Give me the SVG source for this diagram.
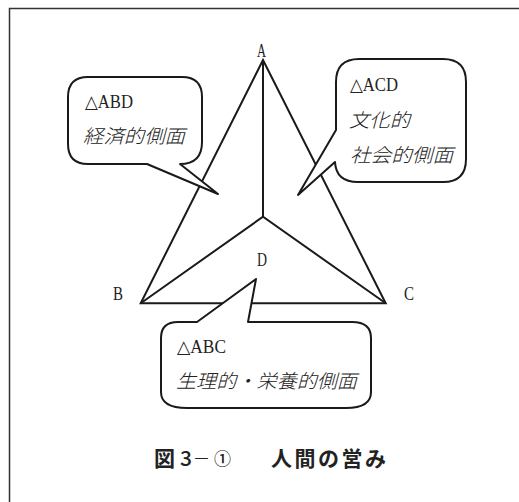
<svg xmlns="http://www.w3.org/2000/svg" width="519" height="502" viewBox="0 0 519 502">
<style>
.ln{fill:none;stroke:#1a1a1a;stroke-width:2;stroke-linejoin:miter}
.bub{fill:#fff;stroke:#1a1a1a;stroke-width:2;stroke-linejoin:round}
.lat{font-family:"Liberation Serif","DejaVu Serif",serif;font-size:18px;fill:#222}
.jp{font-family:"Noto Sans CJK JP","Noto Sans CJK SC",sans-serif;font-size:19px;font-style:italic;font-weight:300;fill:#222}
.cap{font-family:"Noto Sans CJK JP","Noto Sans CJK SC",sans-serif;font-size:21px;font-weight:700;fill:#222}
</style>
<rect x="0" y="0" width="519" height="502" fill="#fff"/>
<path d="M9.5,530 V8.5 H530" fill="none" stroke="#333" stroke-width="1.5"/>
<g id="connectors">
<path class="ln" d="M263,60 L140.7,303.3 L385.7,303.3 Z"/>
<path class="ln" d="M263,60 V216.7 M140.7,303.3 L263,216.7 L385.7,303.3"/>
</g>
<g id="vertex-A"><text class="lat" x="257" y="57" textLength="9" lengthAdjust="spacingAndGlyphs">A</text></g>
<g id="vertex-B"><text class="lat" x="113" y="300" textLength="10" lengthAdjust="spacingAndGlyphs">B</text></g>
<g id="vertex-C"><text class="lat" x="404" y="300" textLength="10" lengthAdjust="spacingAndGlyphs">C</text></g>
<g id="vertex-D"><text class="lat" x="257" y="266" textLength="10" lengthAdjust="spacingAndGlyphs">D</text></g>
<g id="bubble-ABD">
<path class="bub" d="M147,164 L218,194 L180,164 Q202,164 202,142 V97 Q202,77 182,77 H88 Q68,77 68,97 V144 Q68,164 88,164 Z"/>
<text class="lat" x="85" y="108" textLength="48" lengthAdjust="spacingAndGlyphs">△ABD</text>
<text class="jp" x="83" y="143" textLength="102" lengthAdjust="spacingAndGlyphs">経済的側面</text>
</g>
<g id="bubble-ACD">
<path class="bub" d="M336,130 L298,195 L335,162 Q336,182 358,182 H443 Q466,182 466,159 V82 Q466,59 443,59 H359 Q336,59 336,82 Z"/>
<text class="lat" x="350" y="91" textLength="48" lengthAdjust="spacingAndGlyphs">△ACD</text>
<text class="jp" x="349" y="127" textLength="61" lengthAdjust="spacingAndGlyphs">文化的</text>
<text class="jp" x="350" y="162" textLength="103" lengthAdjust="spacingAndGlyphs">社会的側面</text>
</g>
<g id="bubble-ABC">
<path class="bub" d="M248,322 L256,279 L197,322 H178 Q161,322 161,338 V392 Q161,408 187,408 H346 Q371,408 371,392 V338 Q371,322 352,322 Z"/>
<text class="lat" x="177" y="353" textLength="49" lengthAdjust="spacingAndGlyphs">△ABC</text>
<text class="jp" x="176" y="388" textLength="181" lengthAdjust="spacingAndGlyphs">生理的・栄養的側面</text>
</g>
<g id="caption">
<text class="cap" x="154" y="466">図</text>
<text class="cap" x="180" y="466" style="font-weight:500">3</text>
<text class="cap" x="194" y="466" textLength="15" lengthAdjust="spacingAndGlyphs" style="font-weight:500">―</text>
<text class="cap" x="214" y="465" style="font-size:17px;font-weight:500">①</text>
<text class="cap" x="271" y="466" textLength="115" lengthAdjust="spacing">人間の営み</text>
</g>
</svg>
